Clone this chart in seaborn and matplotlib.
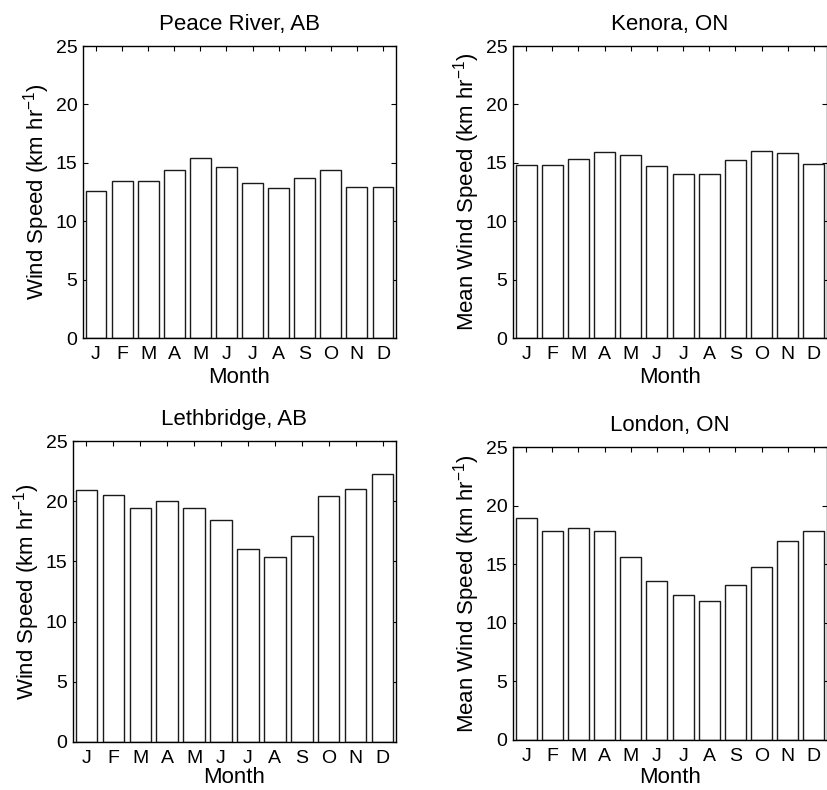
import matplotlib
matplotlib.use("Agg")
import matplotlib.pyplot as plt
import seaborn as sns
import pandas as pd

months = ["J", "F", "M", "A", "M", "J", "J", "A", "S", "O", "N", "D"]
peace_river = [12.6, 13.4, 13.4, 14.4, 15.4, 14.6, 13.3, 12.8, 13.7, 14.4, 12.9, 12.9]
kenora = [14.8, 14.8, 15.3, 15.9, 15.7, 14.7, 14.0, 14.0, 15.2, 16.0, 15.8, 14.9]
lethbridge = [20.9, 20.5, 19.4, 20.0, 19.4, 18.4, 16.0, 15.4, 17.1, 20.4, 21.0, 22.3]
london = [18.9, 17.8, 18.1, 17.8, 15.6, 13.6, 12.4, 11.9, 13.2, 14.8, 17.0, 17.8]

titles = ["Peace River, AB", "Kenora, ON", "Lethbridge, AB", "London, ON"]
ylabels = ["Wind Speed (km hr$^{-1}$)", "Mean Wind Speed (km hr$^{-1}$)",
           "Wind Speed (km hr$^{-1}$)", "Mean Wind Speed (km hr$^{-1}$)"]
series = [peace_river, kenora, lethbridge, london]

sns.set_theme(style="white")
plt.rcParams["font.family"] = ["Liberation Sans", "DejaVu Sans"]
plt.rcParams["mathtext.fontset"] = "custom"
plt.rcParams["mathtext.rm"] = "Liberation Sans"
plt.rcParams["mathtext.it"] = "Liberation Sans"
plt.rcParams["mathtext.default"] = "regular"
plt.rcParams["text.color"] = "black"
plt.rcParams["axes.labelcolor"] = "black"

fig = plt.figure(figsize=(8.28, 7.90), dpi=100)
W, H = 828, 790
boxes = [(83, 46, 396, 338), (513, 46, 827, 338), (73, 441, 396, 742), (513, 447, 827, 740)]
xlabel_pads = [2.5, 2.5, 0.0, 1.5]

for box, vals, title, ylab, xpad in zip(boxes, series, titles, ylabels, xlabel_pads):
    l, t, r, b = box
    ax = fig.add_axes([l / W, 1 - b / H, (r - l) / W, (b - t) / H])
    df = pd.DataFrame({"pos": list(range(12)), "speed": vals})
    sns.barplot(data=df, x="pos", y="speed", ax=ax, color="white",
                edgecolor="#1a1a1a", linewidth=1.0, width=0.8, saturation=1)
    ax.set_xticks(range(12))
    ax.set_xticklabels(months)
    ax.set_xlim(-0.5, 11.5)
    ax.set_ylim(0, 25)
    ax.set_yticks([0, 5, 10, 15, 20, 25])
    ax.tick_params(direction="in", length=3.5, width=0.8, top=True, right=True,
                   bottom=True, left=True, labelsize=14, colors="black", pad=4)
    ax.tick_params(axis="x", pad=6)
    for s in ax.spines.values():
        s.set_visible(True)
        s.set_color("black")
        s.set_linewidth(1.0)
    ax.set_title(title, fontsize=16, pad=11.5, color="black")
    ax.set_xlabel("Month", fontsize=16, labelpad=xpad)
    ax.set_ylabel(ylab, fontsize=16, labelpad=3)
    ax.set_facecolor("white")

fig.savefig("out.png", dpi=100, facecolor="white")
